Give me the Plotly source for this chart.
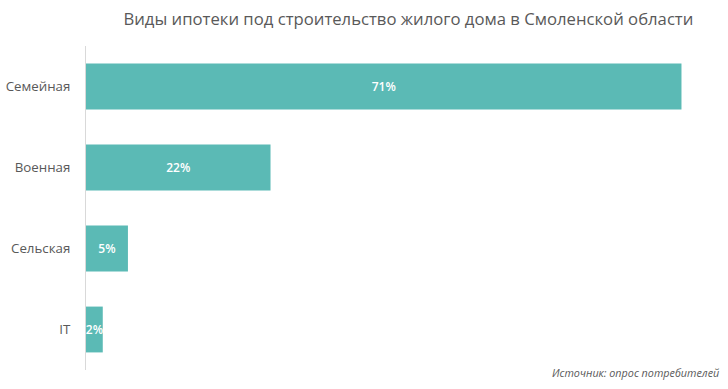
import plotly.graph_objects as go

categories = ["Семейная", "Военная", "Сельская", "IT"]
values = [71, 22, 5, 2]
labels = ["71%", "22%", "5%", "2%"]

fig = go.Figure(go.Bar(
    y=categories, x=values, orientation="h",
    marker=dict(color="#5BBAB5", line=dict(width=0)),
    width=0.566,
    text=labels, textposition="inside", insidetextanchor="middle", textangle=0,
    textfont=dict(color="white", size=12, family="Open Sans", weight=600),
    cliponaxis=False, constraintext="none",
))

fig.update_layout(
    width=728, height=389,
    margin=dict(l=86, r=18, t=46, b=19, autoexpand=False),
    paper_bgcolor="white", plot_bgcolor="white",
    showlegend=False,
    font=dict(family="Open Sans", color="#595959"),
    title=dict(text="Виды ипотеки под строительство жилого дома в Смоленской области",
               x=0.561, xanchor="center", y=0.952, yanchor="middle",
               font=dict(size=16.7, color="#595959", family="Open Sans", weight=500)),
    xaxis=dict(range=[0, 74.4], showgrid=False, showticklabels=False, zeroline=False,
               showline=False, automargin=False),
    yaxis=dict(autorange="reversed", showline=True, linecolor="#d9d9d9", linewidth=1,
               ticks="", ticklabelstandoff=12, automargin=False,
               tickfont=dict(size=13.3, color="#595959")),
    annotations=[dict(text="<i>Источник: опрос потребителей</i>", xref="paper", yref="paper",
                      x=1.0, y=-0.009, xanchor="right", yanchor="middle", showarrow=False,
                      xshift=12, font=dict(size=10.8, color="#595959"))],
)

fig.write_html("out.html", config={"displayModeBar": False},
               post_script="document.body.style.margin='0';document.body.style.overflow='hidden';")
